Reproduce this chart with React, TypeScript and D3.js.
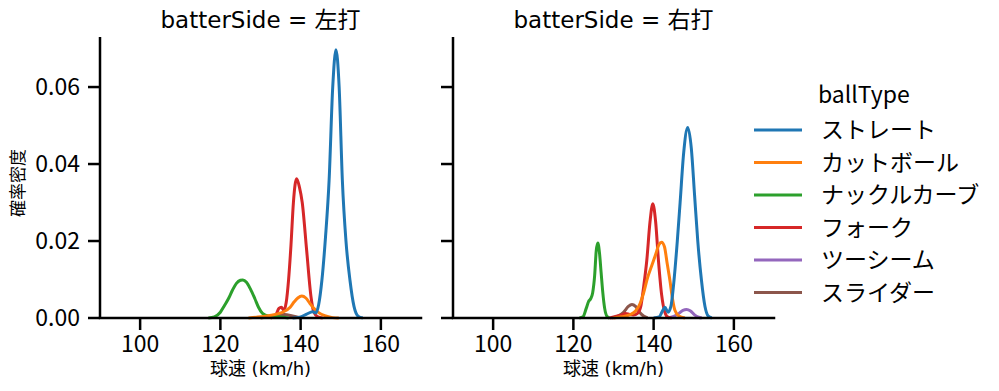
import React from "react";
import * as d3 from "d3";

// ball types in legend order (tab10 colours)
const ballTypes = ["ストレート", "カットボール", "ナックルカーブ", "フォーク", "ツーシーム", "スライダー"];
const colors = ["#1f77b4", "#ff7f0e", "#2ca02c", "#d62728", "#9467bd", "#8c564b"];
const panelTitles = ["batterSide = 左打", "batterSide = 右打"];
const xTicks = [100, 120, 140, 160];
const yTicks = [0, 0.02, 0.04, 0.06];

// density curves: [speed km/h, density]
const leftStraight = [
  [138, 0], [140, 0.0003], [141.5, 0.001], [143, 0.0016], [143.8, 0.0013], [144.5, 0.0035],
  [145.3, 0.0098], [146.2, 0.021], [147.1, 0.0358], [148, 0.06], [148.8, 0.0697], [149.6, 0.06],
  [150.4, 0.0358], [151.3, 0.02], [152.3, 0.0098], [153.3, 0.003], [154.3, 0.0005], [155.5, 0],
];
const leftCutter = [
  [127, 0], [129, 0.0002], [132, 0.0006], [135, 0.0013], [137.4, 0.0028], [138.4, 0.0042],
  [139.3, 0.0052], [140.3, 0.0057], [141.3, 0.0052], [142.3, 0.0038], [143.3, 0.0025],
  [144.5, 0.0014], [146, 0.0006], [148, 0.0001], [149.5, 0],
];
const leftKnuckleCurve = [
  [117, 0], [118.5, 0.0003], [120, 0.0015], [121, 0.0032], [122, 0.005], [123, 0.0072],
  [124, 0.009], [125, 0.0098], [125.6, 0.0099], [126.5, 0.0093], [127.5, 0.0075], [128.6, 0.005],
  [129.5, 0.0028], [130.5, 0.0012], [132, 0.0005], [134, 0.0004], [135.5, 0.0002], [137, 0],
];
const leftFork = [
  [132.5, 0], [133.8, 0.0008], [134.6, 0.0025], [135.2, 0.0028], [135.8, 0.002], [136.4, 0.004],
  [137, 0.01], [137.6, 0.019], [138.2, 0.03], [139, 0.0362], [139.7, 0.034], [140.4, 0.03],
  [141.5, 0.0176], [142.6, 0.0054], [143.3, 0.0015], [144.3, 0.0003], [145.5, 0],
];
const leftSlider = [
  [130, 0], [132, 0.0003], [134, 0.0007], [136, 0.0009], [138, 0.0005], [140, 0],
];

const rightStraight = [
  [140, 0], [141.4, 0.0003], [142.2, 0.0018], [142.8, 0.0028], [143.6, 0.0015], [144.3, 0.003],
  [145.1, 0.01], [145.9, 0.02], [146.6, 0.03], [147.5, 0.043], [148.5, 0.0495], [149.4, 0.044],
  [150.2, 0.032], [151, 0.02], [151.9, 0.01], [152.8, 0.003], [153.6, 0.0005], [154.5, 0],
];
const rightCutter = [
  [130, 0], [132, 0.0003], [134, 0.0008], [135.5, 0.0018], [136.6, 0.0037], [137.5, 0.0065],
  [138.5, 0.0105], [139.5, 0.0135], [140.5, 0.0165], [141.3, 0.019], [142, 0.0197], [142.7, 0.0185],
  [143.4, 0.014], [144.1, 0.0095], [144.7, 0.005], [145.3, 0.002], [146.3, 0.0005], [147.8, 0],
];
const rightKnuckleCurve = [
  [121.5, 0], [122.4, 0.0003], [123.2, 0.0025], [123.8, 0.0043], [124.3, 0.005], [124.8, 0.0065],
  [125.3, 0.011], [125.7, 0.0175], [126.1, 0.0195], [126.5, 0.017], [126.9, 0.012], [127.3, 0.007],
  [127.8, 0.0025], [128.4, 0.0004], [129, 0],
];
const rightFork = [
  [129, 0], [130.5, 0.0004], [132, 0.0008], [133, 0.0012], [134, 0.0009], [135, 0.0008],
  [136, 0.0012], [136.8, 0.003], [137.5, 0.008], [138.3, 0.015], [139.1, 0.025], [139.8, 0.0297],
  [140.5, 0.025], [141.2, 0.015], [142, 0.006], [142.8, 0.0015], [143.6, 0.0002], [144.5, 0],
];
const rightTwoSeam = [
  [143.5, 0], [145, 0.0004], [146.3, 0.0012], [147.3, 0.002], [148.2, 0.0022], [149.2, 0.0018],
  [150.2, 0.0008], [151.2, 0.0002], [152, 0],
];
const rightSlider = [
  [129.5, 0], [131, 0.0004], [132.5, 0.0015], [133.7, 0.003], [134.6, 0.0035], [135.5, 0.003],
  [136.5, 0.0015], [137.5, 0.0005], [138.5, 0],
];

// index matches ballTypes, null = no pitches
const panelSeries = [
  [leftStraight, leftCutter, leftKnuckleCurve, leftFork, null, leftSlider],
  [rightStraight, rightCutter, rightKnuckleCurve, rightFork, rightTwoSeam, rightSlider],
];

const W = 999;
const H = 391;
const panelLeft = [100, 453];
const panelW = 321;
const top = 37;
const bottom = 318;
const font = "'Noto Sans CJK JP', 'Noto Sans', sans-serif";
const wideFont = "'DejaVu Sans', 'Noto Sans CJK JP', sans-serif";

function Panel({ idx }: { idx: number }) {
  const x0 = panelLeft[idx];
  const x = d3.scaleLinear().domain([90, 170]).range([x0, x0 + panelW]);
  const y = d3.scaleLinear().domain([0, 0.073]).range([bottom, top]);
  const line = d3
    .line<number[]>()
    .x((d) => x(d[0]))
    .y((d) => y(d[1]))
    .curve(d3.curveMonotoneX);
  const series = panelSeries[idx];
  // seaborn draws last hue first, so blue ends up on top
  const order = [5, 4, 3, 2, 1, 0];
  return (
    <g>
      {order.map((k) =>
        series[k] ? (
          <path key={k} d={line(series[k] as number[][]) || ""} fill="none" stroke={colors[k]} strokeWidth={3} strokeLinejoin="round" />
        ) : null
      )}
      <line x1={x0} x2={x0} y1={top} y2={bottom} stroke="black" strokeWidth={2.5} />
      <line x1={x0} x2={x0 + panelW} y1={bottom} y2={bottom} stroke="black" strokeWidth={2.5} strokeLinecap="square" />
      {xTicks.map((t) => (
        <g key={t} transform={`translate(${x(t)},${bottom})`}>
          <line y2={12} stroke="black" strokeWidth={2.5} />
          <text y={33.5} textAnchor="middle" fontSize={23} fontFamily={font}>{t}</text>
        </g>
      ))}
      {yTicks.map((t) => (
        <g key={t} transform={`translate(${x0},${y(t)})`}>
          <line x2={-12} stroke="black" strokeWidth={2.5} />
          {idx === 0 ? (
            <text x={-20} dy="0.36em" textAnchor="end" fontSize={23} fontFamily={font}>{t.toFixed(2)}</text>
          ) : null}
        </g>
      ))}
      <text x={x0 + panelW / 2} y={28} textAnchor="middle" fontSize={23} fontFamily={wideFont}>{panelTitles[idx]}</text>
      <text x={x0 + panelW / 2} y={375} textAnchor="middle" fontSize={18} fontFamily={wideFont}>球速 (km/h)</text>
    </g>
  );
}

export default function App() {
  return (
    <svg width={W} height={H} style={{ position: "absolute", left: 0, top: 0, background: "white" }}>
      <Panel idx={0} />
      <Panel idx={1} />
      <text transform={`translate(24,183) rotate(-90)`} textAnchor="middle" fontSize={17} fontFamily={font}>確率密度</text>
      <text x={818} y={103} fontSize={23} fontFamily={font}>ballType</text>
      {ballTypes.map((b, i) => (
        <g key={b} transform={`translate(0,${130 + i * 32.5})`}>
          <line x1={754} x2={802} stroke={colors[i]} strokeWidth={3} />
          <text x={821} dy="0.36em" fontSize={23} fontFamily={font}>{b}</text>
        </g>
      ))}
    </svg>
  );
}
